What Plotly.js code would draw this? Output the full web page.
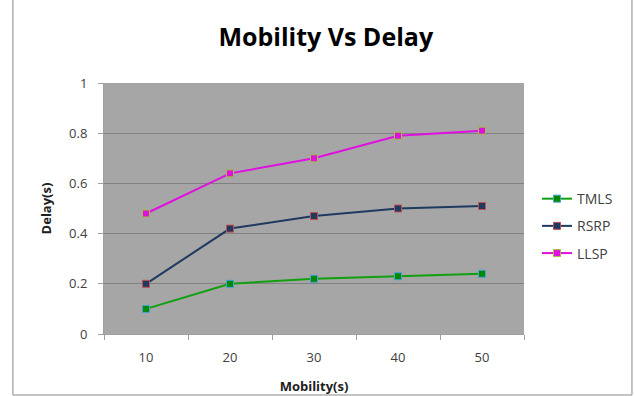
<!DOCTYPE html>
<html>
<head>
<meta charset="utf-8">
<script src="https://cdn.plot.ly/plotly-3.0.1.min.js"></script>
<style>
  html, body { margin: 0; padding: 0; background: #ffffff; }
  #chart { width: 635px; height: 396px; }
</style>
</head>
<body>
<div id="chart"></div>
<script>
// Mobility (s) categories and measured delay (s) per protocol
const mobility = ["10", "20", "30", "40", "50"];
const tmls = [0.10, 0.20, 0.22, 0.23, 0.24];
const rsrp = [0.20, 0.42, 0.47, 0.50, 0.51];
const llsp = [0.48, 0.64, 0.70, 0.79, 0.81];
const yTicks = [0, 0.2, 0.4, 0.6, 0.8, 1];
const yTickText = ["0", "0.2", "0.4", "0.6", "0.8", "1"];

function series(name, values, lineColor, fillColor, edgeColor, group) {
  return {
    type: "scatter",
    mode: "lines+markers",
    name: name,
    x: mobility,
    y: values,
    legendgroup: group,
    line: { color: lineColor, width: 2 },
    marker: { symbol: "square", size: 7, color: fillColor,
              line: { color: edgeColor, width: 1 } }
  };
}

const data = [
  series("TMLS", tmls, "#10a010", "#008a00", "#4aa0d8", "a"),
  series("RSRP", rsrp, "#1f3a60", "#1f3a60", "#c05050", "b"),
  series("LLSP", llsp, "#e010e0", "#e010e0", "#a0c040", "c")
];

const layout = {
  width: 635,
  height: 396,
  margin: { l: 104, r: 111, t: 83, b: 62 },
  paper_bgcolor: "#ffffff",
  plot_bgcolor: "#a6a6a6",
  font: { family: "Open Sans, sans-serif", color: "#404040", size: 13 },
  title: {
    text: "<b>Mobility Vs Delay</b>",
    font: { family: "Open Sans, sans-serif", size: 25, color: "#000000" },
    x: 0.513, xanchor: "center",
    y: 0.905, yanchor: "middle"
  },
  xaxis: {
    type: "category",
    range: [-0.5, 4.5],
    tickson: "boundaries",
    ticks: "outside",
    ticklen: 5,
    tickcolor: "#a0a0a0",
    showline: true,
    linecolor: "#a0a0a0",
    linewidth: 1,
    showgrid: false,
    zeroline: false,
    ticklabelstandoff: 11,
    tickfont: { size: 13, color: "#404040" },
    title: { text: "<b>Mobility(s)</b>", font: { size: 13, color: "#202020" }, standoff: 17 }
  },
  yaxis: {
    range: [0, 1],
    tickvals: yTicks,
    ticktext: yTickText,
    ticks: "outside",
    ticklen: 5,
    tickcolor: "#a0a0a0",
    showline: true,
    linecolor: "#a0a0a0",
    linewidth: 1,
    showgrid: true,
    gridcolor: "#808080",
    gridwidth: 1,
    zeroline: false,
    ticklabelstandoff: 8,
    tickfont: { size: 13, color: "#404040" },
    title: { text: "<b>Delay(s)</b>", font: { size: 13, color: "#202020" }, standoff: 14 }
  },
  legend: {
    x: 1.031, xanchor: "left",
    y: 0.43, yanchor: "middle",
    font: { size: 14, color: "#404040" },
    bgcolor: "rgba(0,0,0,0)",
    traceorder: "grouped",
    tracegroupgap: 6
  },
  shapes: [
    { type: "line", xref: "paper", yref: "paper", x0: -0.217, x1: -0.217, y0: 1.34, y1: -0.243,
      line: { color: "#b0b0b0", width: 1.5 } },
    { type: "line", xref: "paper", yref: "paper", x0: -0.217, x1: 1.257, y0: -0.243, y1: -0.243,
      line: { color: "#b0b0b0", width: 1.5 } },
    { type: "line", xref: "paper", yref: "paper", x0: 1.257, x1: 1.257, y0: 1.34, y1: -0.243,
      line: { color: "#b0b0b0", width: 1.5 } }
  ]
};

Plotly.newPlot("chart", data, layout, { displayModeBar: false, staticPlot: true });
</script>
</body>
</html>
